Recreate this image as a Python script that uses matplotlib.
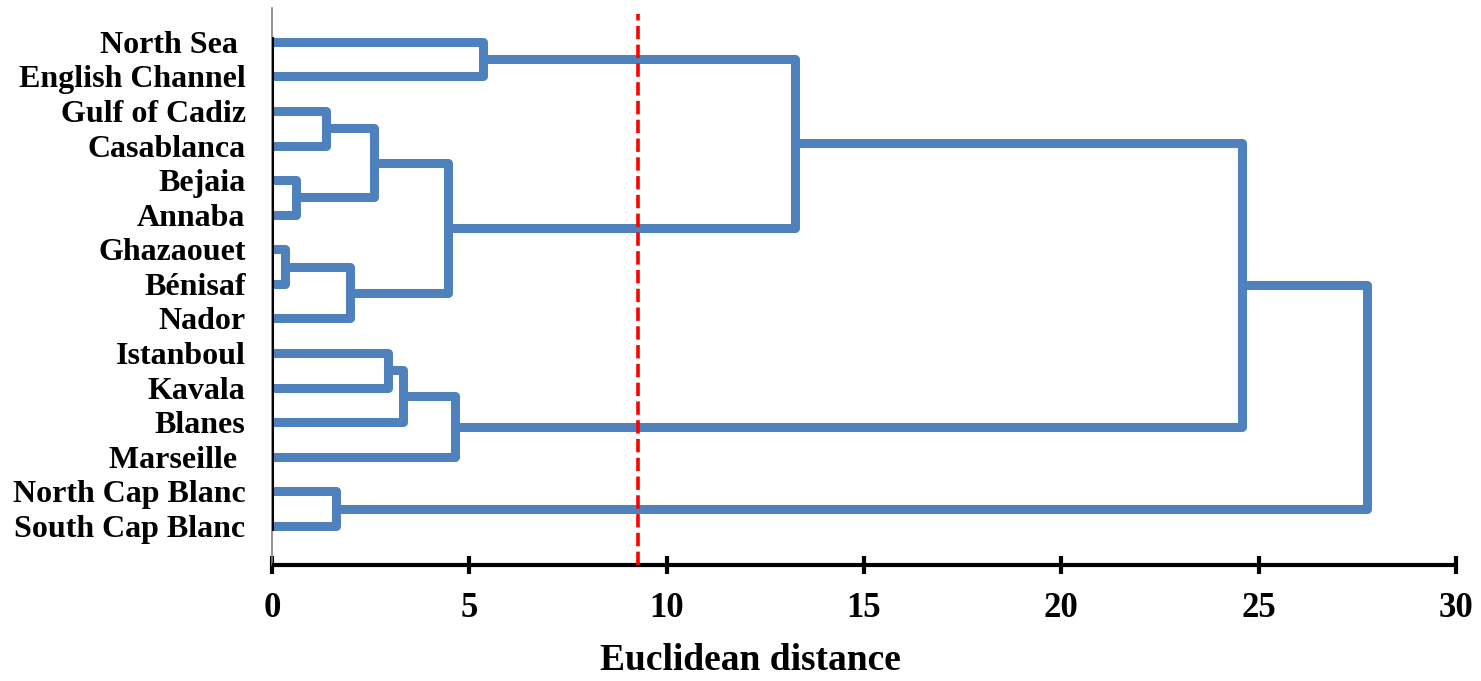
import numpy as np
import matplotlib
matplotlib.use('Agg')
import matplotlib.pyplot as plt

plt.rcParams["font.family"] = ["Liberation Serif", "DejaVu Serif"]
plt.rcParams["font.weight"] = "bold"

# leaves, top to bottom
leaves = ['North Sea ', 'English Channel', 'Gulf of Cadiz', 'Casablanca', 'Bejaia',
          'Annaba', 'Ghazaouet', 'Bénisaf', 'Nador', 'Istanboul', 'Kavala',
          'Blanes', 'Marseille ', 'North Cap Blanc', 'South Cap Blanc']

# merges: (left node, right node, distance); nodes >= 15 are earlier merges
merge_left = [0, 2, 4, 16, 6, 19, 18, 15, 9, 23, 24, 13, 22, 27]
merge_right = [1, 3, 5, 17, 7, 8, 20, 21, 10, 11, 12, 14, 25, 26]
merge_dist = [5.35, 1.37, 0.61, 2.58, 0.33, 1.98, 4.46, 13.25, 2.94, 3.32, 4.64, 1.62, 24.58, 27.74]
cut_off = 9.27

blue = '#4F81BD'
n = len(leaves)

fig = plt.figure(figsize=(14.81, 6.81), dpi=100)
ax = fig.add_axes([272/1481, 1-565/681, (1456-272)/1481, (565-8)/681])

pos_y = {i: float(i) for i in range(n)}
pos_x = {i: 0.0 for i in range(n)}
for k, (a, b, d) in enumerate(zip(merge_left, merge_right, merge_dist)):
    node = n + k
    ax.plot([pos_x[a], d, d, pos_x[b]], [pos_y[a], pos_y[a], pos_y[b], pos_y[b]],
            color=blue, lw=6.5, solid_joinstyle='round', solid_capstyle='butt', zorder=2)
    pos_x[node] = d
    pos_y[node] = (pos_y[a] + pos_y[b]) / 2

ax.plot([0, 0], [-0.1, n - 1 + 0.1], color='black', lw=2.2, zorder=3)
ax.axvline(cut_off, ymin=0, ymax=0.99, color='#FF0000', lw=2.6, ls=(0, (3.7, 1.5)), zorder=4)

ax.set_xlim(0, 30)
ax.set_ylim(n - 1 + 1.13, -0.98)
ax.set_yticks(range(n))
ax.set_yticklabels(leaves, fontsize=23, fontweight='bold')
ax.tick_params(axis='y', length=0, pad=19)
ax.set_xticks(range(0, 31, 5))
ax.tick_params(axis='x', direction='inout', length=13, width=3, labelsize=25, pad=13)
for lab in ax.get_xticklabels():
    lab.set_fontweight('bold')
ax.set_xlabel('Euclidean distance', fontsize=27, fontweight='bold')
ax.xaxis.set_label_coords((750-272)/1184, -0.172)
ax.xaxis.label.set_va('center')

for s in ['top', 'right']:
    ax.spines[s].set_visible(False)
ax.spines['left'].set_color('#808080')
ax.spines['left'].set_linewidth(1.2)
ax.spines['bottom'].set_linewidth(3)
ax.spines['bottom'].set_capstyle('butt')

fig.savefig('out.png', dpi=100)
